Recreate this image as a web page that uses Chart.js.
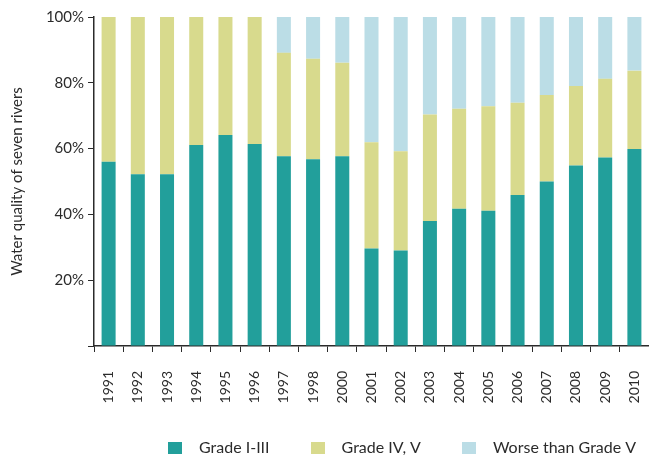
<!DOCTYPE html>
<html>
<head>
<meta charset="utf-8">
<script src="https://cdn.jsdelivr.net/npm/chart.js@4"></script>
<style>
  html, body { margin: 0; padding: 0; background: #ffffff; }
  #wrap { width: 649px; height: 456px; position: relative; }
</style>
</head>
<body>
<div id="wrap"><canvas id="chart"></canvas></div>
<script>
// 七條河流水質分級比例（%）
const years = ['1991', '1992', '1993', '1994', '1995', '1996', '1997', '1998', '2000',
    '2001', '2002', '2003', '2004', '2005', '2006', '2007', '2008', '2009', '2010'];
const gradeI_III = [56, 52.2, 52.2, 61.1, 64.1, 61.4, 57.7, 56.8, 57.7,
    29.6, 29.0, 38.0, 41.7, 41.1, 45.9, 50.0, 54.9, 57.3, 59.9];
const gradeIV_V = [44, 47.8, 47.8, 38.9, 35.9, 38.6, 31.4, 30.5, 28.4,
    32.3, 30.2, 32.4, 30.4, 31.8, 28.0, 26.3, 24.1, 23.9, 23.8];
const worseThanV = [0, 0, 0, 0, 0, 0, 10.9, 12.7, 13.9,
    38.1, 40.8, 29.6, 27.9, 27.1, 26.1, 23.7, 21.0, 18.8, 16.3];
const yTicks = [20, 40, 60, 80, 100];

const INK = '#2b2b2b';
const FONT = 'Lato';
const COLORS = ['#229f9b', '#d8da8d', '#bbdde6'];

// 圖例色塊：14x12 小方塊，用 pointStyle 畫，文字間距較寬
function legendSwatch(color) {
    const c = document.createElement('canvas');
    c.width = 14;
    c.height = 12;
    const g = c.getContext('2d');
    g.fillStyle = color;
    g.fillRect(0, 0, 14, 12);
    return c;
}
const swatches = COLORS.map(legendSwatch);

// 圖例整列右移，對齊原圖位置
const legendShift = {
    id: 'legendShift',
    afterLayout(chart) {
        const lg = chart.legend;
        if (!lg) return;
        const dx = 127 - lg.left;
        lg.left += dx;
        lg.right += dx;
    },
};

new Chart(document.getElementById('chart'), {
    type: 'bar',
    data: {
        labels: years,
        datasets: [
            { label: 'Grade I-III', data: gradeI_III, backgroundColor: COLORS[0] },
            { label: 'Grade IV, V', data: gradeIV_V, backgroundColor: COLORS[1] },
            { label: 'Worse than Grade V', data: worseThanV, backgroundColor: COLORS[2] },
        ],
    },
    plugins: [legendShift],
    options: {
        responsive: true,
        maintainAspectRatio: false,
        animation: false,
        datasets: { bar: { categoryPercentage: 0.48, barPercentage: 1 } },
        layout: { padding: { top: 17, right: 0, left: 0, bottom: -10 } },
        plugins: {
            tooltip: { enabled: false },
            legend: {
                position: 'bottom',
                align: 'start',
                labels: {
                    usePointStyle: true,
                    pointStyleWidth: 32,
                    boxHeight: 12,
                    padding: 32,
                    color: INK,
                    font: { family: FONT, size: 16 },
                    generateLabels: (chart) =>
                        Chart.defaults.plugins.legend.labels.generateLabels(chart)
                            .map((it, i) => ({ ...it, pointStyle: swatches[i] })),
                },
            },
        },
        scales: {
            x: {
                stacked: true,
                afterFit: (scale) => {
                    scale.height = 62;
                    scale.paddingLeft = 0;
                    scale.paddingRight = 0;
                },
                grid: { display: true, drawOnChartArea: false, offset: true, tickLength: 6, color: INK },
                border: { color: INK, width: 1.5 },
                ticks: {
                    color: INK,
                    font: { family: FONT, size: 14 },
                    minRotation: 90,
                    maxRotation: 90,
                    padding: 19,
                    autoSkip: false,
                },
            },
            y: {
                stacked: true,
                min: 0,
                max: 100,
                afterFit: (scale) => { scale.width = 94; },
                afterBuildTicks: (scale) => { scale.ticks = [0, ...yTicks].map((v) => ({ value: v })); },
                grid: { display: true, drawOnChartArea: false, tickLength: 6, color: INK },
                border: { color: INK, width: 1.5 },
                ticks: {
                    color: INK,
                    font: { family: FONT, size: 15 },
                    padding: 4,
                    callback: (v) => (v === 0 ? '' : v + '%'),
                },
                title: {
                    display: true,
                    text: 'Water quality of seven rivers',
                    color: INK,
                    font: { family: FONT, size: 15 },
                    padding: { top: 8, bottom: 0 },
                },
            },
        },
    },
});
</script>
</body>
</html>
